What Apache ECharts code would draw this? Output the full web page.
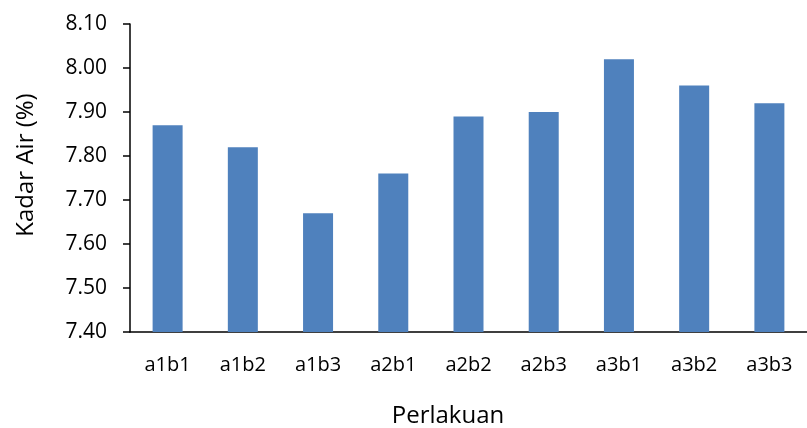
<!DOCTYPE html>
<html><head><meta charset="utf-8">
<script src="https://cdn.jsdelivr.net/npm/echarts@6/dist/echarts.min.js"></script>
<style>html,body{margin:0;padding:0;background:#fff}#c{width:807px;height:428px}</style>
</head><body><div id="c"></div>
<script>
var categories = ['a1b1','a1b2','a1b3','a2b1','a2b2','a2b3','a3b1','a3b2','a3b3'];
var kadarAir = [7.87, 7.82, 7.67, 7.76, 7.89, 7.90, 8.02, 7.96, 7.92];
var yMin = 7.40, yMax = 8.10, yStep = 0.10;
var xTitle = 'Perlakuan';
var yTitle = 'Kadar Air (%)';

var chart = echarts.init(document.getElementById('c'));
var font = '"Open Sans", sans-serif';
chart.setOption({
  animation: false,
  textStyle: { fontFamily: font },
  grid: { left: 130, top: 24, width: 685, height: 308, containLabel: false },
  graphic: [
    { type: 'text', x: 448, y: 416,
      style: { text: xTitle, fontFamily: font, fontSize: 24, fill: '#000',
               textAlign: 'center', textVerticalAlign: 'middle' } },
    { type: 'text', x: 26, y: 165, rotation: Math.PI / 2,
      style: { text: yTitle, fontFamily: font, fontSize: 24, fill: '#000',
               textAlign: 'center', textVerticalAlign: 'middle' } }
  ],
  xAxis: {
    type: 'category', data: categories,
    axisLine: { lineStyle: { color: '#000', width: 1.5 } },
    axisTick: { show: false },
    axisLabel: { color: '#000', fontSize: 20, margin: 23, fontFamily: font }
  },
  yAxis: {
    type: 'value', min: yMin, max: yMax, interval: yStep,
    axisLine: { show: true, lineStyle: { color: '#000', width: 1.5 } },
    axisTick: { show: true, length: 7, lineStyle: { color: '#000', width: 1.5 } },
    splitLine: { show: false },
    axisLabel: { color: '#000', fontSize: 21, margin: 23, fontFamily: font,
      formatter: function (v) { return v.toFixed(2); } }
  },
  series: [{
    type: 'bar', data: kadarAir, barWidth: 30,
    itemStyle: { color: '#4F81BD' }
  }]
});
</script></body></html>
